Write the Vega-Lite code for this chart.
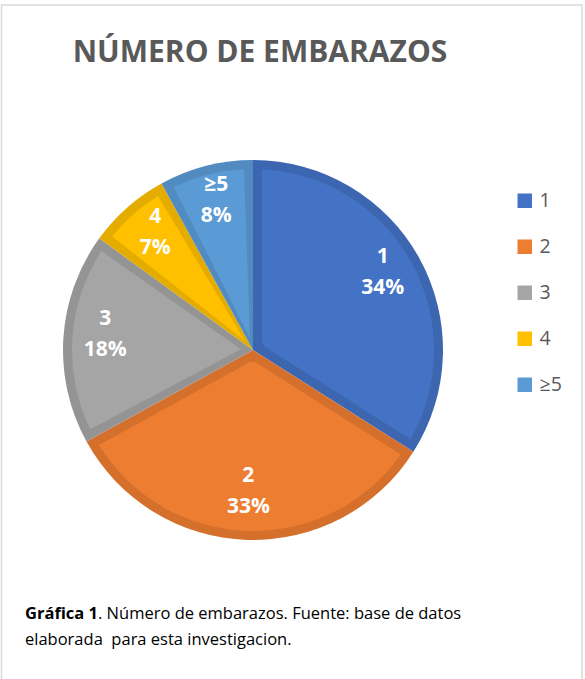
{
  "$schema": "https://vega.github.io/schema/vega-lite/v6.json",
  "autosize": {"type": "none"},
  "width": 380,
  "height": 380,
  "padding": {"left": 63, "top": 160, "right": 142, "bottom": 139},
  "background": "white",
  "config": {"view": {"stroke": null}},
  "title": {
    "text": "NÚMERO DE EMBARAZOS",
    "font": "Open Sans",
    "fontSize": 30,
    "fontWeight": "bold",
    "color": "#595959",
    "anchor": "middle",
    "baseline": "alphabetic",
    "offset": 0,
    "dy": 88,
    "dx": 7
  },
  "data": {
    "values": [
      {"k": 1, "cat": "1", "pct": 34, "label": "34%"},
      {"k": 2, "cat": "2", "pct": 33, "label": "33%"},
      {"k": 3, "cat": "3", "pct": 18, "label": "18%"},
      {"k": 4, "cat": "4", "pct": 7, "label": "7%"},
      {"k": 5, "cat": "≥5", "pct": 8, "label": "8%"}
    ]
  },
  "layer": [
    {
      "data": {"values": [{"f": 1}]},
      "mark": {"type": "rect", "x": -61.5, "x2": 519, "y": -155, "y2": 535, "fill": null, "fillOpacity": 0, "stroke": "#D9D9D9", "strokeWidth": 1.5},
      "encoding": {}
    },
    {
      "mark": {"type": "arc", "outerRadius": 190, "innerRadius": 0},
      "encoding": {
        "theta": {"field": "pct", "type": "quantitative", "stack": true},
        "order": {"field": "k", "type": "quantitative"},
        "fill": {
          "field": "cat", "type": "nominal",
          "scale": {"domain": ["1", "2", "3", "4", "≥5"], "range": ["#3D66B0", "#D5702C", "#949494", "#E5AC00", "#528BBF"]},
          "legend": null
        }
      }
    },
    {
      "mark": {"type": "arc", "outerRadius": 181, "innerRadius": 12, "padAngle": 0.1},
      "encoding": {
        "theta": {"field": "pct", "type": "quantitative", "stack": true},
        "order": {"field": "k", "type": "quantitative"},
        "color": {
          "field": "cat", "type": "nominal",
          "scale": {"domain": ["1", "2", "3", "4", "≥5"], "range": ["#4472C4", "#ED7D31", "#A5A5A5", "#FFC000", "#5B9BD5"]},
          "legend": {
            "title": null,
            "orient": "none",
            "legendX": 452,
            "legendY": 31,
            "padding": 0,
            "symbolType": "square",
            "symbolSize": 210,
            "symbolStrokeWidth": 0,
            "symbolOpacity": 1,
            "labelFont": "Open Sans",
            "labelFontSize": 19.5,
            "labelColor": "#595959",
            "labelOffset": 5,
            "rowPadding": 25
          }
        }
      }
    },
    {
      "mark": {"type": "text", "radius": 148, "dy": -22, "font": "Open Sans", "fontSize": 21, "fontWeight": "bold", "fill": "white", "baseline": "middle", "align": "center"},
      "encoding": {
        "theta": {"field": "pct", "type": "quantitative", "stack": true},
        "order": {"field": "k", "type": "quantitative"},
        "text": {"field": "cat", "type": "nominal"}
      }
    },
    {
      "mark": {"type": "text", "radius": 148, "dy": 9, "font": "Open Sans", "fontSize": 21, "fontWeight": "bold", "fill": "white", "baseline": "middle", "align": "center"},
      "encoding": {
        "theta": {"field": "pct", "type": "quantitative", "stack": true},
        "order": {"field": "k", "type": "quantitative"},
        "text": {"field": "label", "type": "nominal"}
      }
    },
    {
      "data": {"values": [{"t": "Gráfica 1"}]},
      "mark": {"type": "text", "x": -38, "y": 459, "align": "left", "baseline": "alphabetic", "font": "Open Sans", "fontSize": 16.5, "fontWeight": "bold", "fill": "#000000"},
      "encoding": {"text": {"field": "t", "type": "nominal"}}
    },
    {
      "data": {"values": [{"t": ". Número de embarazos. Fuente: base de datos"}]},
      "mark": {"type": "text", "x": 35, "y": 459, "align": "left", "baseline": "alphabetic", "font": "Open Sans", "fontSize": 16.5, "fill": "#000000"},
      "encoding": {"text": {"field": "t", "type": "nominal"}}
    },
    {
      "data": {"values": [{"t": "elaborada\u00a0 para esta investigacion."}]},
      "mark": {"type": "text", "x": -38, "y": 485, "align": "left", "baseline": "alphabetic", "font": "Open Sans", "fontSize": 16.5, "fill": "#000000"},
      "encoding": {"text": {"field": "t", "type": "nominal"}}
    }
  ],
  "resolve": {"scale": {"theta": "shared"}, "legend": {"fill": "independent", "color": "independent"}}
}
